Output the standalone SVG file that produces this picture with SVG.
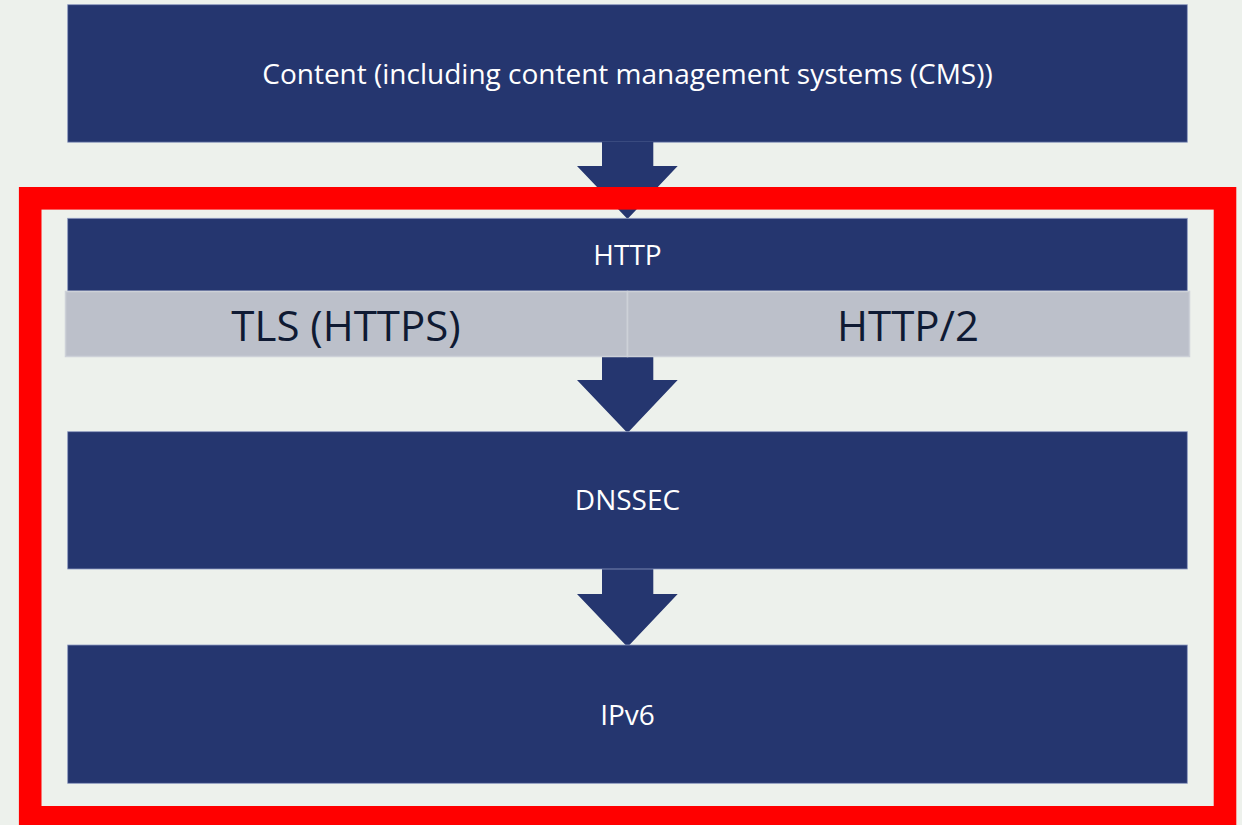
<svg xmlns="http://www.w3.org/2000/svg" width="1242" height="825" viewBox="0 0 1242 825">
<style>
.box{fill:#25366F;stroke:#8D9AC0;stroke-width:0.8}
.cell{fill:#BCC0CA;stroke:#CDD1D8;stroke-width:1.5}
.arrow{fill:#25366F}
.lbl{font-family:"Open Sans","Noto Sans",sans-serif;fill:#FFFFFF;text-anchor:middle;dominant-baseline:central;font-size:28px}
.big{font-family:"Open Sans","Noto Sans",sans-serif;fill:#0F1A33;text-anchor:middle;dominant-baseline:central;font-size:42px}
</style>
<rect x="0" y="0" width="1242" height="825" fill="#EDF1EC"/>
<g id="content">
<rect class="box" x="67.7" y="4.7" width="1119.6" height="137.5"/>
<text class="lbl" x="627.5" y="73">Content (including content management systems (CMS))</text>
</g>
<g id="connectors">
<polygon class="arrow" points="602,142 653.3,142 653.3,166 677.7,166 627.5,219 577,166 602,166"/>
<polygon class="arrow" points="602,356.7 653.3,356.7 653.3,380 677.7,380 627.5,433 577,380 602,380"/>
<polygon class="arrow" points="602,569 653.3,569 653.3,594 677.7,594 627.5,647 577,594 602,594"/>
</g>
<g id="frame">
<rect x="30.2" y="198.3" width="1194.8" height="619" fill="none" stroke="#FF0000" stroke-width="22.6"/>
</g>
<g id="http">
<rect class="box" x="67.7" y="218.3" width="1119.6" height="72.7"/>
<text class="lbl" x="627.5" y="254">HTTP</text>
</g>
<g id="tls">
<rect class="cell" x="65.5" y="291.5" width="562" height="65"/>
<text class="big" x="346" y="324">TLS (HTTPS)</text>
</g>
<g id="http2">
<rect class="cell" x="627.5" y="291.5" width="562" height="65"/>
<text class="big" x="908" y="324">HTTP/2</text>
</g>
<g id="dnssec">
<rect class="box" x="67.7" y="431.7" width="1119.6" height="137.3"/>
<text class="lbl" x="627.5" y="499">DNSSEC</text>
</g>
<g id="ipv6">
<rect class="box" x="67.7" y="645" width="1119.6" height="138.3"/>
<text class="lbl" x="627.5" y="714">IPv6</text>
</g>
</svg>
